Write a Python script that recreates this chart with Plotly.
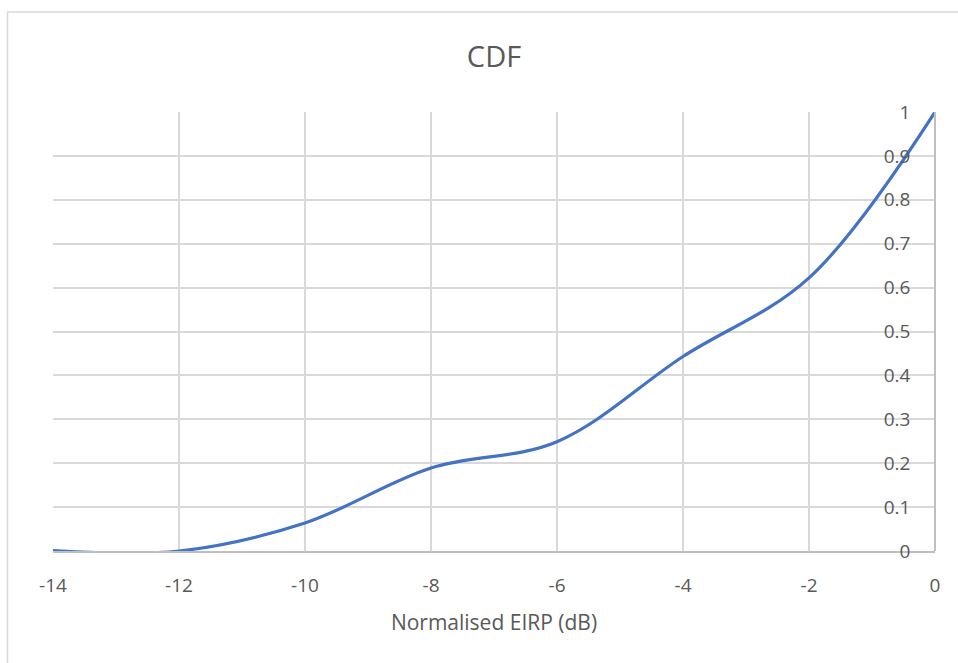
import plotly.graph_objects as go

# Data
eirp_db = [-14, -12, -10, -8, -6, -4, -2, 0]
cdf_values = [0.001, 0.0, 0.064, 0.189, 0.249, 0.443, 0.622, 1.0]
x_ticks = [-14, -12, -10, -8, -6, -4, -2, 0]
y_ticks = [0, 0.1, 0.2, 0.3, 0.4, 0.5, 0.6, 0.7, 0.8, 0.9, 1]
y_tick_text = ["0", "0.1", "0.2", "0.3", "0.4", "0.5", "0.6", "0.7", "0.8", "0.9", "1"]

FONT = "Open Sans"
TXT = "#595959"

fig = go.Figure()
fig.add_trace(go.Scatter(
    x=eirp_db, y=cdf_values, mode="lines",
    line=dict(color="#4472C4", width=3.2, shape="spline", smoothing=1.0),
    showlegend=False, hoverinfo="x+y",
))

W, H = 958, 663
L, R, T, B = 53, 23, 112, 112
pw, ph = W - L - R, H - T - B

def px_to_paper_x(px):
    return (px - L) / pw

def px_to_paper_y(py):
    return (H - B - py) / ph

fig.update_layout(
    width=W, height=H,
    margin=dict(l=L, r=R, t=T, b=B),
    paper_bgcolor="white", plot_bgcolor="white",
    font=dict(family=FONT, color=TXT),
    title=dict(text="CDF", x=0.5, xanchor="center", xref="paper",
               y=1 - 57 / H, yanchor="middle", yref="container",
               font=dict(size=29, color=TXT, family=FONT)),
    xaxis=dict(
        range=[-14, 0], tickmode="array", tickvals=x_ticks,
        ticktext=[str(v) for v in x_ticks],
        showgrid=True, gridcolor="#d9d9d9", gridwidth=1.5,
        showline=True, linecolor="#bfbfbf", linewidth=1.5,
        zeroline=False, ticks="", ticklabelstandoff=16,
        tickfont=dict(size=19, color=TXT, family=FONT),
        title=dict(text="Normalised EIRP (dB)", standoff=19,
                   font=dict(size=21, color=TXT, family=FONT)),
        fixedrange=True,
    ),
    yaxis=dict(
        range=[0, 1], tickmode="array", tickvals=y_ticks, ticktext=y_tick_text,
        anchor="free", position=1.0, side="left",
        showgrid=True, gridcolor="#d9d9d9", gridwidth=1.5,
        showline=True, linecolor="#bfbfbf", linewidth=1.5,
        zeroline=False, ticks="", ticklabelstandoff=20,
        tickfont=dict(size=19, color=TXT, family=FONT),
        fixedrange=True,
    ),
    shapes=[dict(
        type="rect", xref="paper", yref="paper",
        x0=px_to_paper_x(7.5), x1=px_to_paper_x(1000),
        y0=px_to_paper_y(700), y1=px_to_paper_y(12),
        line=dict(color="#d9d9d9", width=1.5), fillcolor="rgba(0,0,0,0)",
        layer="below",
    )],
)

fig.write_html("out.html")
